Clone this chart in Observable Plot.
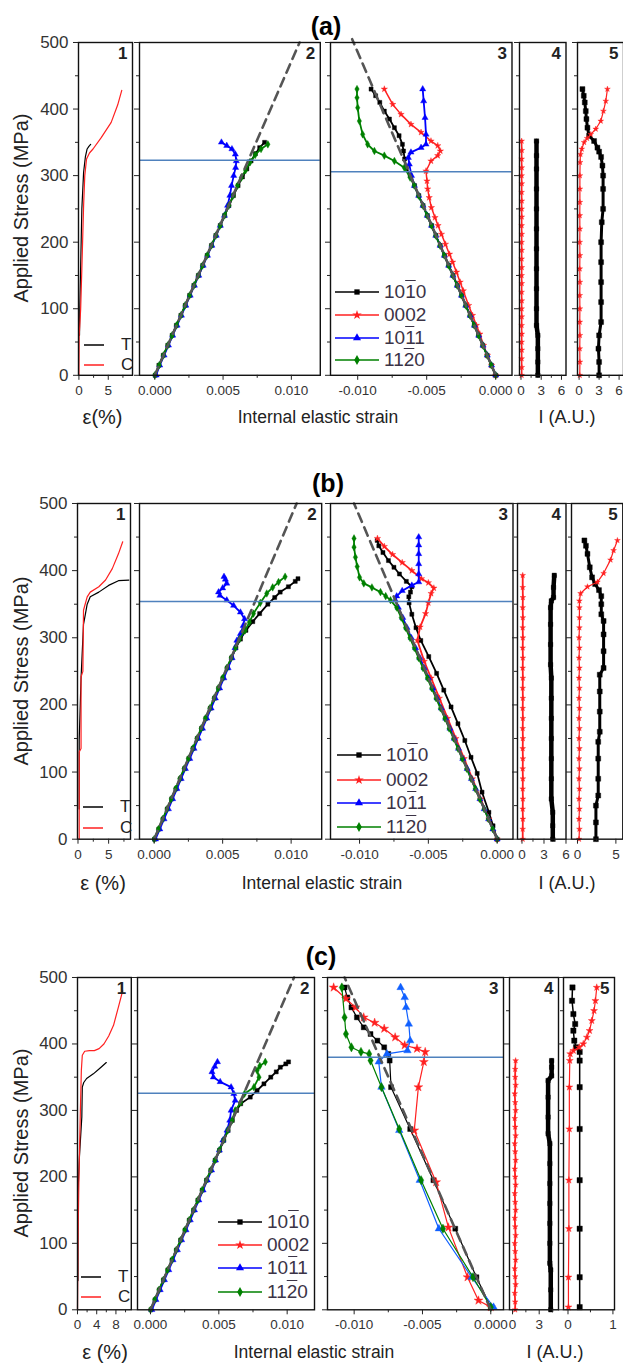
<!DOCTYPE html>
<html><head><meta charset="utf-8">
<script src="https://cdn.jsdelivr.net/npm/d3@7"></script>
<script src="https://cdn.jsdelivr.net/npm/@observablehq/plot@0.6"></script>
<style>
body{margin:0;background:#fff;font-family:Arial,"Liberation Sans",sans-serif;}
#root{position:relative;width:623px;height:1365px;overflow:hidden;background:#fff;}
.abs{position:absolute;}
.title{font-weight:bold;font-size:25px;color:#000;transform:translate(-50%,-50%);}
.xl{font-size:17.5px;color:#222;transform:translate(-50%,-50%);white-space:nowrap;}
.yl{font-size:20px;color:#222;transform:translate(-50%,-50%) rotate(-90deg);white-space:nowrap;}
.leg{font-size:19px;color:#3b3346;display:flex;align-items:center;height:22px;transform:translateY(-50%);white-space:nowrap;}
.tc{font-size:17px;color:#222;display:flex;align-items:center;height:18px;transform:translateY(-50%);white-space:nowrap;}
.ov{text-decoration:overline;}
</style></head><body><div id="root"></div><script>
// ---------------- Row (a) ----------------
const a1_T = [[0.1,60],[0.15,100],[0.3,165],[0.5,250],[0.8,305],[1.1,328],[1.4,340],[1.7,344],[2.0,347]];
const a1_C = [[0,0],[0.05,60],[0.3,100],[0.5,160],[0.8,255],[1.0,300],[1.3,325],[1.8,334],[2.4,340],[3.8,357],[5.5,380],[6.6,406],[7.3,428]];
const a2_1010 = [[0.00003,0],[0.0003,15],[0.00062,30],[0.00095,45],[0.00127,60],[0.00158,75],[0.00191,90],[0.00223,105],[0.00255,120],[0.00286,135],[0.00319,150],[0.00351,165],[0.00383,180],[0.00415,195],[0.00447,210],[0.00479,225],[0.00511,240],[0.00543,255],[0.00576,270],[0.0061,285],[0.00642,298],[0.00674,310],[0.00705,322],[0.00737,333],[0.00768,342],[0.00804,350]];
const a2_1011 = [[0.0001,0],[0.00036,15],[0.00068,30],[0.001,45],[0.00131,60],[0.00163,75],[0.00195,90],[0.00227,105],[0.00259,120],[0.0029,135],[0.00322,150],[0.00354,165],[0.00386,180],[0.00418,195],[0.0045,210],[0.0048,225],[0.0051,240],[0.00533,255],[0.0055,270],[0.00562,285],[0.00578,300],[0.00592,312],[0.00597,322],[0.0059,332],[0.00565,340],[0.00527,345],[0.00488,350]];
const a2_1120 = [[0,0],[0.00032,15],[0.00063,30],[0.00095,45],[0.00127,60],[0.00159,75],[0.00191,90],[0.00222,105],[0.00255,120],[0.00287,135],[0.00319,150],[0.0035,165],[0.00383,180],[0.00415,195],[0.00447,210],[0.00479,225],[0.00511,240],[0.00543,255],[0.00574,270],[0.00606,285],[0.00634,297],[0.00665,308],[0.00698,320],[0.00735,331],[0.00778,340],[0.00828,347]];
const a2_dash = [[0,0],[0.0106,500]];
const a2_yield = [323];
const a3_1010 = [[0,0],[-0.00031,15],[-0.00062,30],[-0.00093,45],[-0.00124,60],[-0.00155,75],[-0.00186,90],[-0.00216,105],[-0.00247,120],[-0.00278,135],[-0.00309,150],[-0.0034,165],[-0.00371,180],[-0.00402,195],[-0.00433,210],[-0.00464,225],[-0.00495,240],[-0.00526,255],[-0.00557,270],[-0.00588,285],[-0.0062,300],[-0.00648,312],[-0.0066,325],[-0.00668,337],[-0.00676,347],[-0.007,360],[-0.00734,372],[-0.0077,385],[-0.00807,397],[-0.0084,410],[-0.0087,420],[-0.00903,430]];
const a3_0002 = [[0,0],[-0.0003,15],[-0.0006,30],[-0.00088,45],[-0.00115,62],[-0.0014,75],[-0.00168,90],[-0.00196,105],[-0.00235,127],[-0.00258,140],[-0.00284,155],[-0.00312,170],[-0.00335,182],[-0.00364,197],[-0.00393,212],[-0.00418,225],[-0.0044,237],[-0.00466,252],[-0.00482,267],[-0.00493,280],[-0.00498,292],[-0.00505,307],[-0.00469,322],[-0.0042,330],[-0.00401,337],[-0.0042,345],[-0.00469,352],[-0.00541,365],[-0.00614,377],[-0.00686,392],[-0.00746,407],[-0.00807,430]];
const a3_1011 = [[0,0],[-0.0003,15],[-0.00061,30],[-0.00092,45],[-0.00123,60],[-0.00154,75],[-0.00185,90],[-0.00217,105],[-0.00248,120],[-0.00279,135],[-0.0031,150],[-0.00341,165],[-0.00372,180],[-0.00403,195],[-0.00434,210],[-0.00465,225],[-0.00496,240],[-0.00527,255],[-0.00558,270],[-0.00589,285],[-0.0061,300],[-0.00626,317],[-0.00633,327],[-0.00614,335],[-0.00541,342],[-0.00505,347],[-0.00505,362],[-0.00512,387],[-0.00522,412],[-0.00529,430]];
const a3_1120 = [[0,0],[-0.00032,15],[-0.00063,30],[-0.00094,45],[-0.00125,60],[-0.00156,75],[-0.00187,90],[-0.00218,105],[-0.00249,120],[-0.0028,135],[-0.00311,150],[-0.00342,165],[-0.00373,180],[-0.00404,195],[-0.00435,210],[-0.00466,225],[-0.00497,240],[-0.00528,255],[-0.00559,270],[-0.0059,285],[-0.0062,297],[-0.00662,312],[-0.00734,322],[-0.00807,330],[-0.00879,337],[-0.00928,347],[-0.00964,362],[-0.00988,382],[-0.01,402],[-0.01005,417],[-0.01005,430]];
const a3_dash = [[0,0],[-0.0104,505]];
const a3_yield = [306];
const a4_1010 = [[2.5,0],[2.5,20],[2.5,40],[2.5,60],[2.3,75],[2.3,100],[2.3,130],[2.3,160],[2.3,190],[2.3,220],[2.3,250],[2.3,280],[2.3,310],[2.3,330],[2.3,352]];
const a4_0002 = [[0.1,0],[0.12,12],[0.1,25],[0.12,38],[0.1,50],[0.12,62],[0.1,75],[0.12,88],[0.1,100],[0.12,112],[0.1,125],[0.12,138],[0.1,150],[0.12,162],[0.1,175],[0.12,188],[0.1,200],[0.12,212],[0.1,225],[0.12,238],[0.1,250],[0.12,262],[0.1,275],[0.12,288],[0.1,300],[0.12,312],[0.1,325],[0.12,338],[0.1,352]];
const a5_1010 = [[3.0,0],[3.0,20],[2.9,40],[3.0,60],[3.3,80],[3.3,110],[3.3,140],[3.3,170],[3.3,200],[3.4,230],[3.6,250],[3.6,280],[3.6,300],[3.5,315],[3.3,328],[3.0,336],[2.75,342],[2.25,352],[1.5,360],[1.25,372],[1.1,385],[1.0,397],[0.85,410],[0.7,420],[0.5,430]];
const a5_0002 = [[0.1,0],[0.12,20],[0.1,40],[0.12,60],[0.1,80],[0.12,100],[0.1,120],[0.12,140],[0.1,160],[0.12,180],[0.1,200],[0.12,220],[0.1,240],[0.12,260],[0.12,280],[0.12,300],[0.15,320],[0.2,332],[0.4,340],[0.75,350],[1.2,356],[1.75,362],[2.5,370],[3.25,382],[3.65,397],[4.0,412],[4.25,430]];

// ---------------- Row (b) ----------------
const b1_T = [[0.2,45],[0.2,100],[0.2,148],[0.5,240],[0.9,320],[1.2,335],[1.5,350],[2.0,361],[3.4,368],[5.0,378],[6.6,385],[8.3,386]];
const b1_C = [[0.2,0],[0.2,130],[0.5,135],[0.5,242],[0.8,250],[0.9,341],[1.5,361],[2.0,368],[3.4,376],[4.5,386],[5.6,403],[6.6,425],[7.3,443]];
const b2_1010 = [[0.00003,0],[0.00034,15],[0.00065,30],[0.00096,45],[0.00128,60],[0.0016,75],[0.00191,90],[0.00222,105],[0.00253,120],[0.00284,135],[0.00315,150],[0.00346,165],[0.00378,180],[0.0041,195],[0.00441,210],[0.00472,225],[0.00503,240],[0.00534,255],[0.00565,270],[0.00597,285],[0.0063,298],[0.0067,311],[0.0072,324],[0.0077,336],[0.0083,350],[0.0088,360],[0.0092,368],[0.0098,376],[0.0103,384],[0.0105,388]];
const b2_1011 = [[0.0001,0],[0.00041,15],[0.00072,30],[0.00104,45],[0.00135,60],[0.00166,75],[0.00197,90],[0.00228,105],[0.0026,120],[0.00291,135],[0.00322,150],[0.00353,165],[0.00384,180],[0.00416,195],[0.00447,210],[0.00478,225],[0.00509,240],[0.0054,255],[0.00569,270],[0.0059,285],[0.00604,296],[0.0063,306],[0.0065,318],[0.0066,328],[0.0063,338],[0.0058,348],[0.0053,356],[0.0048,363],[0.0047,368],[0.005,374],[0.0053,381],[0.0052,387],[0.0051,391]];
const b2_1120 = [[0,0],[0.00031,15],[0.00062,30],[0.00094,45],[0.00125,60],[0.00156,75],[0.00187,90],[0.00218,105],[0.0025,120],[0.00281,135],[0.00312,150],[0.00343,165],[0.00374,180],[0.00406,195],[0.00437,210],[0.00468,225],[0.00499,240],[0.0053,255],[0.00562,270],[0.00594,285],[0.00624,298],[0.00664,311],[0.00695,323],[0.00725,336],[0.00775,352],[0.00822,366],[0.00865,375],[0.00908,383],[0.00956,391]];
const b2_dash = [[0,0],[0.0104,500]];
const b2_yield = [354];
const b3_1010 = [[0,0],[-0.0003,20],[-0.0006,40],[-0.0011,70],[-0.00145,98],[-0.0019,122],[-0.00235,147],[-0.00285,172],[-0.00335,197],[-0.00388,222],[-0.0044,247],[-0.00497,272],[-0.00555,296],[-0.0059,315],[-0.0062,335],[-0.0064,352],[-0.00642,361],[-0.0063,368],[-0.0062,376],[-0.0066,384],[-0.0071,395],[-0.0075,405],[-0.0079,415],[-0.0083,427],[-0.0086,437],[-0.00872,445]];
const b3_0002 = [[0,0],[-0.0006,30],[-0.0012,60],[-0.0018,90],[-0.0024,120],[-0.003,150],[-0.0036,180],[-0.0042,210],[-0.0048,240],[-0.0053,265],[-0.0058,296],[-0.0056,316],[-0.0052,336],[-0.005,352],[-0.0048,366],[-0.0046,374],[-0.005,382],[-0.0055,388],[-0.0062,400],[-0.0069,412],[-0.0076,424],[-0.0082,436],[-0.0087,448]];
const b3_1011 = [[0,0],[-0.00031,15],[-0.00062,30],[-0.00094,45],[-0.00125,60],[-0.00156,75],[-0.00187,90],[-0.00218,105],[-0.0025,120],[-0.00281,135],[-0.00312,150],[-0.00343,165],[-0.00374,180],[-0.00406,195],[-0.00437,210],[-0.00468,225],[-0.00499,240],[-0.0053,255],[-0.00562,270],[-0.00593,285],[-0.00624,300],[-0.00655,315],[-0.00686,330],[-0.00718,345],[-0.0074,356],[-0.0073,362],[-0.0069,370],[-0.0062,378],[-0.0057,383],[-0.0057,395],[-0.0057,410],[-0.0057,425],[-0.0057,438],[-0.0057,450]];
const b3_1120 = [[0,0],[-0.00032,15],[-0.00064,30],[-0.00095,45],[-0.00127,60],[-0.00159,75],[-0.0019,90],[-0.00222,105],[-0.00254,120],[-0.00285,135],[-0.00317,150],[-0.00349,165],[-0.0038,180],[-0.00412,195],[-0.00444,210],[-0.00476,225],[-0.00507,240],[-0.00539,255],[-0.00571,270],[-0.00602,285],[-0.00634,300],[-0.00666,315],[-0.00697,330],[-0.0073,345],[-0.00775,356],[-0.0081,362],[-0.00848,368],[-0.0091,375],[-0.00969,381],[-0.01,390],[-0.01017,406],[-0.0103,420],[-0.0104,435],[-0.0104,448]];
const b3_dash = [[0,0],[-0.0104,500]];
const b3_yield = [354];
const b4_1010 = [[4.2,0],[4.2,20],[4.2,40],[4.0,60],[4.0,90],[4.0,120],[4.0,150],[4.0,180],[4.0,210],[4.0,240],[3.9,260],[3.9,290],[3.9,320],[3.9,345],[4.0,355],[4.3,360],[4.3,375],[4.4,393]];
const b4_0002 = [[0.1,0],[0.1,15],[0.12,30],[0.1,45],[0.12,60],[0.1,75],[0.12,90],[0.1,105],[0.12,120],[0.1,135],[0.12,150],[0.1,165],[0.12,180],[0.1,195],[0.12,210],[0.1,225],[0.12,240],[0.1,255],[0.12,270],[0.1,285],[0.12,300],[0.1,315],[0.12,330],[0.1,345],[0.12,360],[0.1,375],[0.1,393]];
const b5_1010 = [[2.4,0],[2.4,25],[2.4,50],[2.7,65],[2.7,90],[2.7,120],[2.7,145],[2.9,160],[2.9,190],[2.9,220],[2.9,245],[3.4,255],[3.4,280],[3.4,305],[3.4,325],[3.1,335],[3.1,350],[3.1,362],[2.8,371],[2.3,380],[1.9,390],[1.6,405],[1.3,425],[1.1,437],[0.9,445]];
const b5_0002 = [[0.2,0],[0.25,15],[0.2,30],[0.25,45],[0.2,60],[0.25,75],[0.2,90],[0.25,105],[0.2,120],[0.25,135],[0.2,150],[0.25,165],[0.2,180],[0.25,195],[0.2,210],[0.25,225],[0.2,240],[0.25,255],[0.2,270],[0.25,285],[0.2,300],[0.25,315],[0.25,330],[0.25,345],[0.25,355],[0.4,366],[1.3,376],[2.6,383],[3.4,396],[4.3,416],[4.7,430],[5.2,445]];

// ---------------- Row (c) ----------------
const c1_T = [[0.1,44],[0.1,100],[0.1,175],[0.4,230],[0.9,290],[1.0,335],[1.3,342],[1.9,348],[3.3,355],[4.6,363],[6.0,372]];
const c1_C = [[0,0],[0.1,100],[0.3,200],[0.6,300],[0.8,360],[1.0,383],[1.5,389],[2.5,390],[3.5,390],[4.5,393],[5.5,400],[6.5,412],[7.5,428],[8.5,455],[9.4,480]];
const c2_1010 = [[0.00003,0],[0.00033,15],[0.00064,30],[0.00095,45],[0.00127,60],[0.00158,75],[0.0019,90],[0.00221,105],[0.00253,120],[0.00284,135],[0.00316,150],[0.00347,165],[0.00379,180],[0.0041,195],[0.00442,210],[0.00473,225],[0.00505,240],[0.00536,255],[0.00568,270],[0.00599,285],[0.0063,300],[0.0066,310],[0.0073,320],[0.0078,330],[0.0083,340],[0.0088,350],[0.0092,358],[0.0095,365],[0.0099,370],[0.0101,373]];
const c2_1011 = [[0.0001,0],[0.0004,15],[0.00071,30],[0.00102,45],[0.00134,60],[0.00165,75],[0.00197,90],[0.00228,105],[0.0026,120],[0.00291,135],[0.00322,150],[0.00354,165],[0.00385,180],[0.00416,195],[0.00447,210],[0.00476,225],[0.00504,240],[0.0053,255],[0.0056,270],[0.0058,285],[0.0059,300],[0.0062,315],[0.0061,325],[0.0059,335],[0.0051,343],[0.0046,350],[0.0045,358],[0.0047,366],[0.0049,373]];
const c2_1120 = [[0,0],[0.00031,15],[0.00062,30],[0.00094,45],[0.00125,60],[0.00157,75],[0.00188,90],[0.0022,105],[0.00251,120],[0.00283,135],[0.00314,150],[0.00346,165],[0.00377,180],[0.00409,195],[0.0044,210],[0.00472,225],[0.00503,240],[0.00535,255],[0.00566,270],[0.00597,285],[0.0062,300],[0.0066,312],[0.00688,325],[0.00757,335],[0.00794,350],[0.0078,360],[0.008,367],[0.0084,373]];
const c2_dash = [[0,0],[0.0105,500]];
const c2_yield = [326];
const c3_1010 = [[0,4],[-0.00105,49],[-0.0026,122],[-0.0042,195],[-0.0059,272],[-0.0073,335],[-0.0074,375],[-0.0075,385],[-0.0078,395],[-0.0083,405],[-0.0088,415],[-0.0093,425],[-0.0098,440],[-0.0102,455],[-0.0105,470],[-0.0107,485]];
const c3_0002 = [[0,4],[-0.0009,14],[-0.0017,49],[-0.0031,124],[-0.004,192],[-0.0056,270],[-0.0053,335],[-0.0049,373],[-0.0048,388],[-0.0054,393],[-0.0063,398],[-0.007,410],[-0.0078,423],[-0.0085,432],[-0.0093,440],[-0.0099,455],[-0.0106,468],[-0.0115,485]];
const c3_1011 = [[0.0002,4],[-0.0014,49],[-0.0038,122],[-0.0052,195],[-0.0067,270],[-0.008,335],[-0.0082,373],[-0.0076,385],[-0.0061,390],[-0.0059,405],[-0.006,430],[-0.0062,455],[-0.0063,470],[-0.0066,485]];
const c3_1120 = [[0,4],[-0.0013,49],[-0.0035,122],[-0.0051,195],[-0.0067,272],[-0.008,335],[-0.0088,375],[-0.0089,385],[-0.0095,388],[-0.0102,395],[-0.0106,415],[-0.0107,440],[-0.0109,485]];
const c3_dash = [[0,0],[-0.0107,500]];
const c3_yield = [380];
const c4_1010 = [[4.3,0],[4.3,30],[4.3,60],[4.2,70],[4.2,100],[4.2,130],[4.2,160],[4.2,190],[4.2,220],[4.2,250],[4.0,265],[4.0,290],[4.0,320],[4.0,345],[4.4,352],[4.4,365],[4.4,375]];
const c4_0002 = [[0.3,0],[0.3,12],[0.25,25],[0.35,38],[0.3,50],[0.25,62],[0.35,75],[0.3,88],[0.25,100],[0.35,112],[0.3,125],[0.25,138],[0.35,150],[0.3,162],[0.25,175],[0.35,188],[0.3,200],[0.25,212],[0.35,225],[0.3,238],[0.25,250],[0.35,262],[0.3,275],[0.25,288],[0.35,300],[0.3,312],[0.25,325],[0.35,338],[0.3,350],[0.3,362],[0.35,375]];
const c5_1010 = [[0.26,4],[0.26,49],[0.26,122],[0.26,195],[0.26,272],[0.26,335],[0.26,375],[0.26,388],[0.18,395],[0.14,405],[0.12,420],[0.16,430],[0.12,445],[0.09,465],[0.1,485]];
const c5_0002 = [[0.01,4],[0.01,49],[0.02,122],[0.02,195],[0.03,272],[0.03,335],[0.04,375],[0.05,385],[0.12,390],[0.25,395],[0.34,400],[0.42,410],[0.48,420],[0.53,435],[0.58,450],[0.61,465],[0.64,485]];

// ---------------- ticks ----------------
const yTicks = [0,100,200,300,400,500];
const yMinor = [50,150,250,350,450];
const strainTicksPos = [0,0.005,0.01], strainMinorPos = [0.0025,0.0075];
const strainTicksNeg = [-0.01,-0.005,0], strainMinorNeg = [-0.0075,-0.0025];

const COL = {k:"#000", r:"#ff2020", b:"#0000ff", g:"#008000"};
const root = document.getElementById("root");

function ser(data, color, symbol, sw=1.8, r=2.3) {
  const m = [Plot.line(data, {x: d=>d[0], y: d=>d[1], stroke: color, strokeWidth: sw})];
  if (symbol) m.push(Plot.dot(data, {x: d=>d[0], y: d=>d[1], symbol, r, fill: color, stroke: color, strokeWidth: 0.4}));
  return m;
}
function dash(data){ return Plot.line(data, {x:d=>d[0], y:d=>d[1], stroke:"#555", strokeWidth:2.6, strokeDasharray:"9,6"}); }
function yieldLine(v){ return Plot.ruleY(v, {stroke:"#4f81bd", strokeWidth:1.5}); }

function panel(s) {
  const ml = s.ml ?? 12, mr = 2, mt = 4, mb = 30;
  const w = s.x1 - s.x0, h = s.y1 - s.y0;
  const xf = s.xf ?? (d=>String(d));
  const marks = [
    ...s.marks,
    Plot.frame({stroke:"#111", strokeWidth:1.4}),
    Plot.axisX({ticks: s.xt, tickFormat: xf, tickSize:5, tickPadding:5, label:null, fontSize:13.5, fill:"#333"}),
    Plot.axisX({ticks: s.xm, tickFormat: ()=>"", tickSize:3, label:null}),
    Plot.axisY({ticks: yTicks, tickFormat: s.yl ? (d=>String(d)) : (()=>""), tickSize:5, tickPadding:5, label:null, fontSize:17, fill:"#333"}),
    Plot.axisY({ticks: yMinor, tickFormat: ()=>"", tickSize:3, label:null}),
    Plot.text([s.num], {text: d=>d, frameAnchor:"top-right", dx:-5, dy:4, lineAnchor:"top", textAnchor:"end", fontSize:17, fontWeight:"bold", fill:"#222"})
  ];
  const p = Plot.plot({
    width: w+ml+mr, height: h+mt+mb, marginLeft: ml, marginRight: mr, marginTop: mt, marginBottom: mb,
    x: {domain: s.xd}, y: {domain:[0,500]},
    style: {background:"transparent", overflow:"visible", fontFamily:"Arial, 'Liberation Sans', sans-serif", fontSize:"12px", color:"#222"},
    marks
  });
  p.style.position="absolute"; p.style.left=(s.x0-ml)+"px"; p.style.top=(s.y0-mt)+"px"; p.style.maxWidth="none";
  root.appendChild(p);
}
const f3 = d => d.toFixed(3);

function row(r) {
  const {y0,y1} = r;
  panel({x0:r.p1[0], x1:r.p1[1], y0, y1, xd:r.p1d, xt:r.p1t, xm:r.p1m, ml:45, yl:true, num:"1",
    marks:[...ser(r.T,"#000",null,1.2), ...ser(r.C,"#ff2020",null,1.2)]});
  panel({x0:r.p2[0], x1:r.p2[1], y0, y1, xd:r.p2d, xt:strainTicksPos, xm:strainMinorPos, xf:f3, num:"2",
    marks:[...r.m2, dash(r.d2), yieldLine(r.y2)]});
  panel({x0:r.p3[0], x1:r.p3[1], y0, y1, xd:r.p3d, xt:strainTicksNeg, xm:strainMinorNeg, xf:f3, num:"3",
    marks:[...r.m3, dash(r.d3), yieldLine(r.y3)]});
  panel({x0:r.p4[0], x1:r.p4[1], y0, y1, xd:r.p4d, xt:r.p4t, xm:r.p4m, num:"4", marks:r.m4});
  panel({x0:r.p5[0], x1:r.p5[1], y0, y1, xd:r.p5d, xt:r.p5t, xm:r.p5m, num:"5", marks:r.m5});
}

row({y0:41.7, y1:374.5,
  p1:[77.7,131.7], p1d:[-0.07,9.13], p1t:[0,5], p1m:[2.5,7.5], T:a1_T, C:a1_C,
  p2:[138.7,319.5], p2d:[-0.00112,0.01212], d2:a2_dash, y2:a2_yield,
  m2:[...ser(a2_1010,COL.k,"square"), ...ser(a2_1011,COL.b,"triangle"), ...ser(a2_1120,COL.g,"diamond")],
  p3:[329.5,511], p3d:[-0.01197,0.00118], d3:a3_dash, y3:a3_yield,
  m3:[...ser(a3_1010,COL.k,"square"), ...ser(a3_0002,COL.r,"star",1.5,2), ...ser(a3_1011,COL.b,"triangle"), ...ser(a3_1120,COL.g,"diamond")],
  p4:[519,565.5], p4d:[-0.22,6.67], p4t:[0,3,6], p4m:[1.5,4.5],
  m4:[...ser(a4_1010,COL.k,"square",4.5,2.5), ...ser(a4_0002,COL.r,"star",1.5,1.8)],
  p5:[576.7,622.7], p5d:[-0.24,6.66], p5t:[0,3,6], p5m:[1.5,4.5],
  m5:[...ser(a5_1010,COL.k,"square",3,2.8), ...ser(a5_0002,COL.r,"star",1.2,1.8)]
});
row({y0:503.3, y1:839,
  p1:[76.5,129.5], p1d:[-0.08,8.57], p1t:[0,5], p1m:[2.5,7.5], T:b1_T, C:b1_C,
  p2:[139.3,321.5], p2d:[-0.00107,0.01223], d2:b2_dash, y2:b2_yield,
  m2:[...ser(b2_1010,COL.k,"square"), ...ser(b2_1011,COL.b,"triangle"), ...ser(b2_1120,COL.g,"diamond")],
  p3:[330,512.5], p3d:[-0.01211,0.00115], d3:b3_dash, y3:b3_yield,
  m3:[...ser(b3_1010,COL.k,"square"), ...ser(b3_0002,COL.r,"star",1.8,2), ...ser(b3_1011,COL.b,"triangle"), ...ser(b3_1120,COL.g,"diamond")],
  p4:[516.5,565], p4d:[-0.61,6.0], p4t:[0,3,6], p4m:[1.5,4.5],
  m4:[...ser(b4_1010,COL.k,"square",4.5,2.5), ...ser(b4_0002,COL.r,"star",1.8,1.8)],
  p5:[570.7,622], p5d:[-0.78,5.9], p5t:[0,5], p5m:[2.5],
  m5:[...ser(b5_1010,COL.k,"square",3,2.8), ...ser(b5_0002,COL.r,"star",1.2,1.8)]
});
row({y0:977, y1:1309.3,
  p1:[76.7,130.5], p1d:[0,11.2], p1t:[0,4,8], p1m:[2,6,10], T:c1_T, C:c1_C,
  p2:[137,314], p2d:[-0.00095,0.012], d2:c2_dash, y2:c2_yield,
  m2:[...ser(c2_1010,COL.k,"square"), ...ser(c2_1011,COL.b,"triangle"), ...ser(c2_1120,COL.g,"diamond")],
  p3:[326.7,502.7], p3d:[-0.01195,0.00093], d3:c3_dash, y3:c3_yield,
  m3:[...ser(c3_1010,COL.k,"square",1.2,2.8), ...ser(c3_0002,COL.r,"star",1.2,2.8), ...ser(c3_1011,"#1060ff","triangle",1.2,2.8), ...ser(c3_1120,COL.g,"diamond",1.2,2.8)],
  p4:[509.3,558.3], p4d:[-0.34,5.17], p4t:[0,3], p4m:[1.5,4.5],
  m4:[...ser(c4_1010,COL.k,"square",4.5,2.5), ...ser(c4_0002,COL.r,"star",1.8,1.8)],
  p5:[563.3,614.3], p5d:[-0.1,1.035], p5t:[0,1], p5m:[0.5],
  m5:[...ser(c5_1010,COL.k,"square",1.5,3), ...ser(c5_0002,COL.r,"star",1.2,2.2)]
});

// ---------------- text ----------------
function txt(cls, x, y, html) {
  const d = document.createElement("div"); d.className = "abs " + cls;
  d.style.left = x + "px"; d.style.top = y + "px"; d.innerHTML = html; root.appendChild(d);
  return d;
}
txt("title", 326, 26, "(a)"); txt("title", 328, 483, "(b)"); txt("title", 321, 956, "(c)");
[[208,417,102.5,"ε(%)",318,567],[671,883,103,"ε (%)",322,567],[1143,1352,105,"ε (%)",314,555]].forEach(([ym,yb,ex,el,ix,ax])=>{
  txt("yl", 21, ym, "Applied Stress (MPa)");
  txt("xl", ex, yb, el).style.fontSize = "20px";
  txt("xl", ix, yb, "Internal elastic strain");
  txt("xl", ax, yb, "I (A.U.)").style.fontSize = "18px";
});
// T / C legends in panel 1
[[84,345,365],[83,806.7,828],[81,1276.7,1296.7]].forEach(([x,yT,yC])=>{
  txt("tc", x, yT, '<svg width="20" height="4" style="margin-right:17px"><line x1="0" y1="2" x2="20" y2="2" stroke="#000" stroke-width="1.5"/></svg>T');
  txt("tc", x, yC, '<svg width="20" height="4" style="margin-right:17px"><line x1="0" y1="2" x2="20" y2="2" stroke="#ff2020" stroke-width="1.5"/></svg>C');
});
const legItems = [
  {c:COL.k, sym:d3.symbolSquare, html:'10<span class="ov">1</span>0'},
  {c:COL.r, sym:d3.symbolStar, html:'0002'},
  {c:COL.b, sym:d3.symbolTriangle, html:'10<span class="ov">1</span>1'},
  {c:COL.g, sym:d3.symbolDiamond, html:'11<span class="ov">2</span>0'}
];
function legend(x, ys) {
  legItems.forEach((it,i)=>{
    const d = document.createElement("div"); d.className = "abs leg";
    d.style.left = x + "px"; d.style.top = ys[i] + "px";
    d.innerHTML = `<svg width="46" height="12" style="margin-right:4px"><line x1="1" y1="6" x2="45" y2="6" stroke="${it.c}" stroke-width="1.5"/><path d="${d3.symbol(it.sym, 28)()}" transform="translate(23,6)" fill="${it.c}"/></svg><span>${it.html}</span>`;
    root.appendChild(d);
  });
}
legend(334, [291.7,315,338,360]);
legend(336, [755,780,803,827]);
legend(217, [1221.7,1245,1268,1291.7]);
</script></body></html>
